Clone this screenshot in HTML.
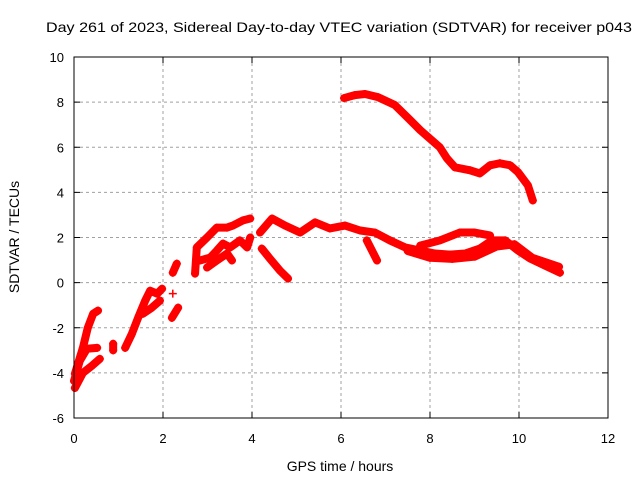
<!DOCTYPE html>
<html><head><meta charset="utf-8"><style>
html,body{margin:0;padding:0;background:#fff;}
svg text{font-family:"Liberation Sans",sans-serif;fill:#000;}
</style></head><body>
<svg id="chart" width="640" height="480" xmlns="http://www.w3.org/2000/svg">
<text x="339" y="32" font-size="14" text-anchor="middle" textLength="586" lengthAdjust="spacingAndGlyphs">Day 261 of 2023, Sidereal Day-to-day VTEC variation (SDTVAR) for receiver p043</text>
<g id="grid"></g>
<g id="ticks"></g>
<g id="marks"></g>
<rect x="74" y="57" width="534" height="361" fill="none" stroke="#000" stroke-width="1"/>
<text x="340" y="471" font-size="14" text-anchor="middle">GPS time / hours</text>
<text x="0" y="0" font-size="14" text-anchor="middle" transform="translate(19,237) rotate(-90)">SDTVAR / TECUs</text>
</svg>
<script>
const xTicks=[0,2,4,6,8,10,12];
const yTicks=[-6,-4,-2,0,2,4,6,8,10];
const trackA=[[6.07,8.18],[6.31,8.31],[6.54,8.36],[6.83,8.22],[7.21,7.87],[7.51,7.29],[7.78,6.76],[8.04,6.31],[8.22,6.0],[8.38,5.51],[8.56,5.11],[8.9,4.98],[9.12,4.84],[9.35,5.2],[9.57,5.29],[9.8,5.2],[9.98,4.89],[10.2,4.31],[10.31,3.64]];
const trackB=[[4.18,2.22],[4.45,2.84],[4.74,2.53],[5.08,2.22],[5.42,2.67],[5.75,2.4],[6.09,2.53],[6.43,2.31],[6.76,2.22],[7.1,1.87],[7.44,1.56],[7.78,1.42],[8.11,1.29],[8.45,1.24],[8.79,1.29],[9.12,1.51],[9.39,1.87],[9.69,1.87],[9.98,1.42],[10.25,1.07],[10.58,0.76],[10.92,0.44]];
const trackB2=[[7.5,1.4],[8.0,1.1],[8.5,1.05],[9.0,1.15],[9.5,1.6],[9.9,1.7],[10.3,1.1],[10.9,0.7]];
const trackC=[[7.78,1.64],[8.22,1.87],[8.67,2.22],[9.0,2.22],[9.35,2.09]];
const trackD=[[4.22,1.51],[4.4,1.07],[4.63,0.53],[4.81,0.18]];
const trackE=[[6.58,1.87],[6.81,0.98]];
const trackF=[[0.02,-4.04],[0.2,-2.89],[0.31,-2.0],[0.43,-1.38],[0.54,-1.24]];
const trackG=[[0,-4.36],[0.13,-3.47],[0.29,-2.93],[0.52,-2.89]];
const trackH=[[0.02,-4.67],[0.2,-4.0],[0.4,-3.69],[0.58,-3.38]];
const trackI=[[0.88,-2.71],[0.88,-3.0]];
const trackJ=[[1.15,-2.89],[1.3,-2.27],[1.44,-1.56],[1.6,-0.8],[1.71,-0.36],[1.87,-0.49],[1.98,-0.27]];
const trackK=[[1.55,-1.38],[1.75,-1.11],[1.93,-0.8]];
const trackL=[[2.22,0.44],[2.31,0.84]];
const trackM=[[2.2,-1.56],[2.34,-1.11]];
const trackS=[[2.22,-0.49]];
const trackN=[[2.72,0.4],[2.76,1.56],[2.99,2.0],[3.21,2.44],[3.44,2.44],[3.57,2.53],[3.8,2.76],[3.96,2.84]];
const trackO=[[2.83,0.98],[3.06,1.11],[3.21,1.42],[3.35,1.73],[3.51,1.56],[3.73,1.87],[3.89,1.56],[3.96,2.0]];
const trackP=[[2.99,0.67],[3.21,0.98],[3.44,1.29],[3.55,0.98]];
const tracks=[trackA,trackB,trackB2,trackC,trackD,trackE,trackF,trackG,trackH,trackI,trackJ,trackK,trackL,trackM,trackS,trackN,trackO,trackP];

const NS="http://www.w3.org/2000/svg";
const X0=74,X1=608,Y0=418,Y1=57,xmin=0,xmax=12,ymin=-6,ymax=10;
function sx(v){return X0+(v-xmin)/(xmax-xmin)*(X1-X0);}
function sy(v){return Y0-(v-ymin)/(ymax-ymin)*(Y0-Y1);}
function mk(t,a,p){const e=document.createElementNS(NS,t);for(const k in a)e.setAttribute(k,a[k]);p.appendChild(e);return e;}
const grid=document.getElementById('grid'),ticks=document.getElementById('ticks'),marks=document.getElementById('marks');
xTicks.forEach(v=>{
  const x=sx(v);
  if(v>xmin&&v<xmax){const g=mk('line',{x1:x,y1:Y1,x2:x,y2:Y0,stroke:'#a0a0a0','stroke-dasharray':'3,3'},grid);
  
  }
  const t=mk('text',{x:x,y:Y0+25,'font-size':'13','text-anchor':'middle'},ticks);t.textContent=v;
  
  
  mk('line',{x1:x,y1:Y0,x2:x,y2:Y0-6,stroke:'#000'},ticks);
  mk('line',{x1:x,y1:Y1,x2:x,y2:Y1+6,stroke:'#000'},ticks);
});
yTicks.forEach(v=>{
  const y=sy(v);
  if(v>ymin&&v<ymax){const g=mk('line',{x1:X0,y1:y,x2:X1,y2:y,stroke:'#a0a0a0','stroke-dasharray':'3,3'},grid);
  
  }
  const t=mk('text',{x:X0-10,y:y+5,'font-size':'13','text-anchor':'end'},ticks);t.textContent=v;
  
  
  mk('line',{x1:X0,y1:y,x2:X0+6,y2:y,stroke:'#000'},ticks);
  mk('line',{x1:X1,y1:y,x2:X1-6,y2:y,stroke:'#000'},ticks);
});
tracks.forEach(tr=>{
  if(tr.length>1){
    const pl=mk('polyline',{points:tr.map(p=>sx(p[0])+','+sy(p[1])).join(' '),fill:'none',stroke:'#ff0000','stroke-width':'8','stroke-linejoin':'round','stroke-linecap':'round'},marks);
    
    
  }
  tr.forEach(p=>{
    const x=sx(p[0]),y=sy(p[1]);
    const m=mk('path',{d:`M${x-4},${y}H${x+4}M${x},${y-4}V${y+4}`,stroke:'#ff0000','stroke-width':'1.5'},marks);
    
    
  });
});
</script>
</body></html>
